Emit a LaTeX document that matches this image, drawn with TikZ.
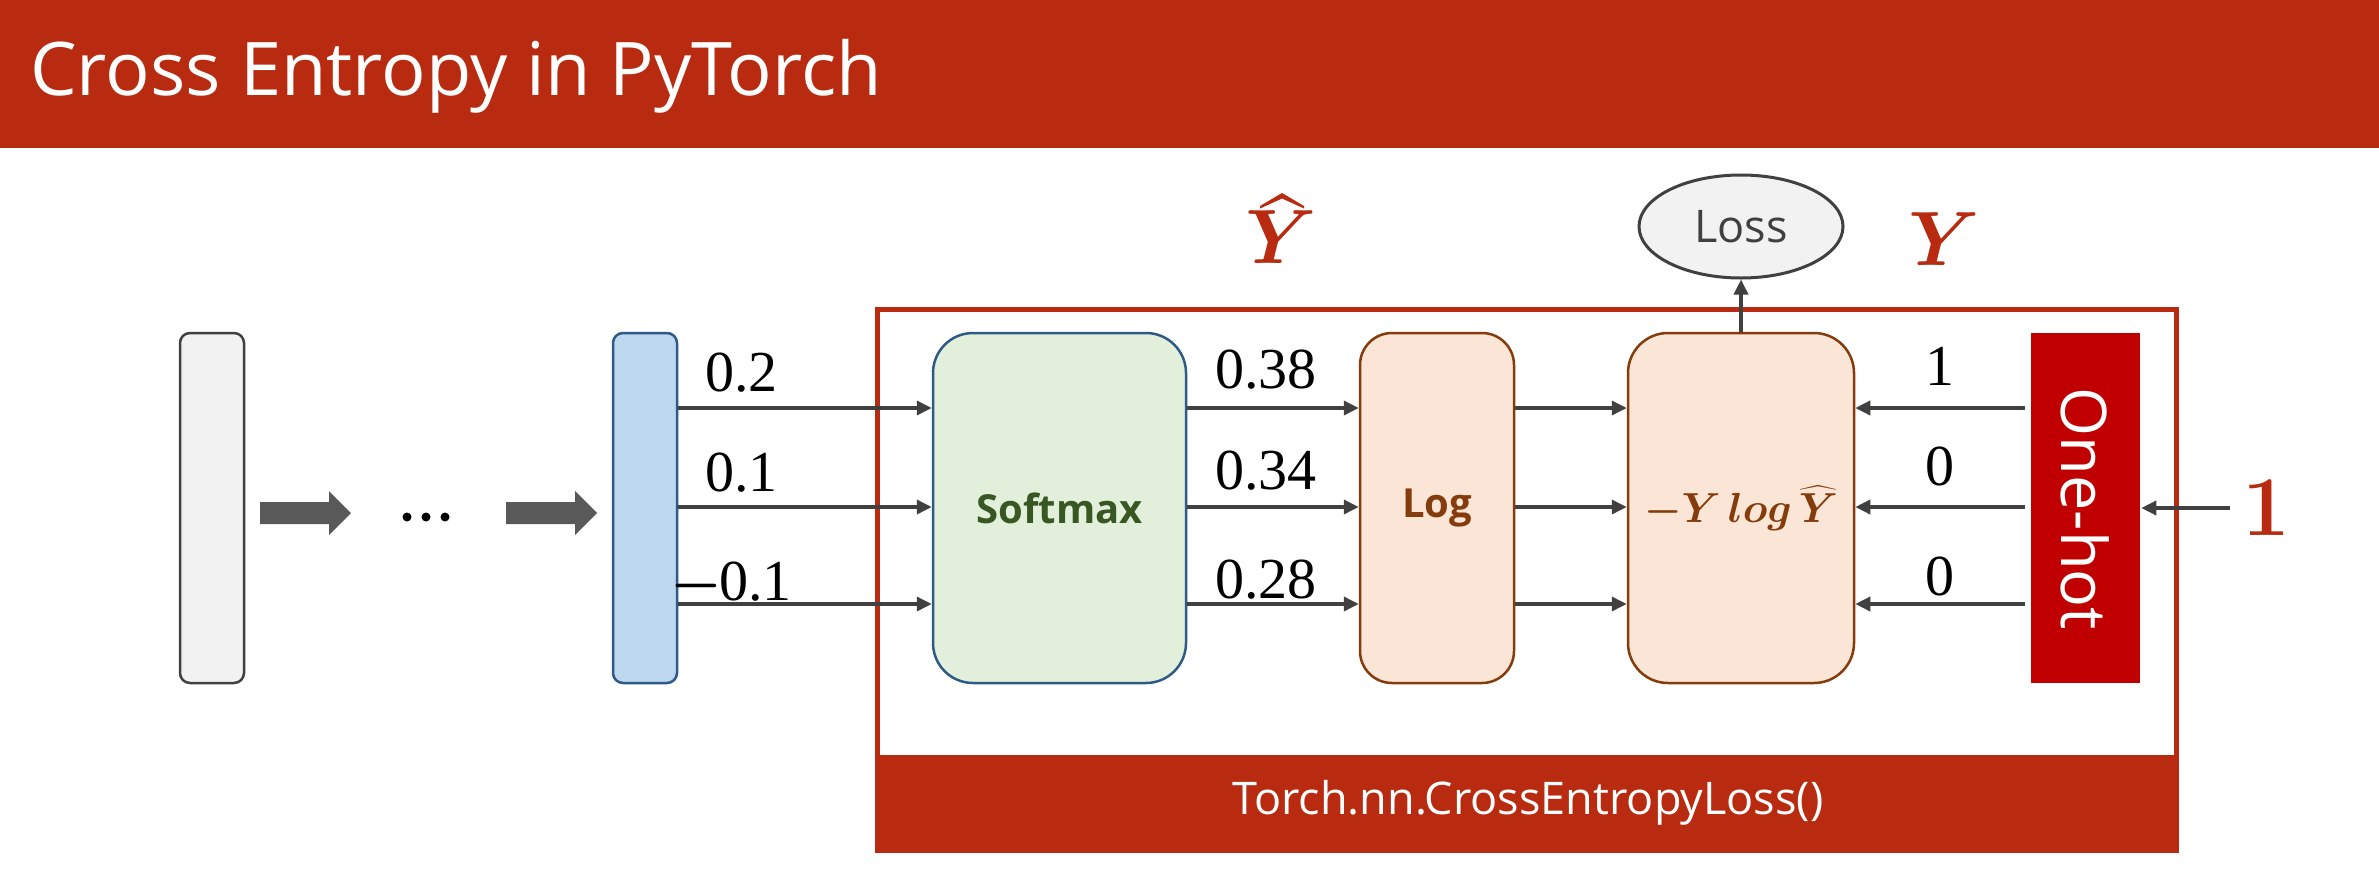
\RequirePackage{fix-cm}
\documentclass[tikz,border=0pt]{standalone}
\usepackage{amsmath}
\usepackage{bm}
\usepackage{fontspec}
\newfontfamily\uisans{Open Sans}
\newfontfamily\numserif{Liberation Serif}
\usetikzlibrary{arrows.meta,shapes.geometric,calc}

\definecolor{brick}{HTML}{B82B10}
\definecolor{hotred}{HTML}{C00000}
\definecolor{panelgray}{HTML}{F2F2F2}
\definecolor{darkline}{HTML}{404040}
\definecolor{blockgray}{HTML}{595959}
\definecolor{skyfill}{HTML}{BDD7EE}
\definecolor{navyline}{HTML}{2E5A88}
\definecolor{mintfill}{HTML}{E2EFDA}
\definecolor{leaf}{HTML}{385723}
\definecolor{peach}{HTML}{FBE5D6}
\definecolor{rust}{HTML}{843C0C}

\begin{document}
\begin{tikzpicture}[x=1pt,y=-1pt,
  column/.style={minimum width=64pt, minimum height=350pt, inner sep=0pt,
                 line width=2.5pt, rounded corners=10pt},
  stage/.style={minimum height=350pt, inner sep=0pt, line width=2.5pt},
  conn/.style={draw=darkline, line width=3.5pt, -{Triangle[length=15pt,width=14pt]}},
  bigarrow/.style={fill=blockgray},
  numlabel/.style={inner sep=0pt, font=\numserif\fontsize{58}{70}\selectfont},
  symlabel/.style={inner sep=0pt, text=brick, font=\fontsize{77}{92}\selectfont},
]
\useasboundingbox (0,0) rectangle (2379,870);
\fill[white] (0,0) rectangle (2379,870);

% title bar
\fill[brick] (0,0) rectangle (2379,148);
\node[anchor=base west, inner sep=0pt, text=white,
      font=\uisans\fontsize{74}{88}\selectfont] (title) at (30,95) {Cross Entropy in PyTorch};

% row heights of the three signals
\coordinate (r1) at (0,408);
\coordinate (r2) at (0,507);
\coordinate (r3) at (0,604);

% network columns
\node[column, draw=darkline, fill=panelgray] (inp) at (212,508) {};
\node[column, draw=navyline, fill=skyfill] (logits) at (645,508) {};

% block arrows and ellipsis between the columns
\fill[bigarrow] (260,502) -- (329,502) -- (329,491) -- (351,513) -- (329,535) -- (329,524) -- (260,524) -- cycle;
\fill[bigarrow] (506,502) -- (575,502) -- (575,491) -- (597,513) -- (575,535) -- (575,524) -- (506,524) -- cycle;
\foreach \dx in {407,426,445} \fill[black] (\dx,517) circle (4.5pt);

% loss module frame and caption band
\draw[brick, line width=5pt] (877.5,309.5) rectangle (2176.5,757);
\fill[brick] (875,755) rectangle (2179,853);
\node[text=white, inner sep=0pt, font=\uisans\fontsize{45}{54}\selectfont] (caption) at (1528,803)
  {Torch.nn.CrossEntropyLoss()};

% processing stages
\node[stage, minimum width=253pt, rounded corners=40pt, draw=navyline, fill=mintfill,
      text=leaf, font=\uisans\bfseries\fontsize{40}{48}\selectfont] (softmax) at (1059.5,508) {Softmax};
\node[stage, minimum width=154pt, rounded corners=32pt, draw=rust, fill=peach,
      text=rust, font=\uisans\bfseries\fontsize{40}{48}\selectfont] (log) at (1437,508) {Log};
\node[stage, minimum width=226pt, rounded corners=40pt, draw=rust, fill=peach,
      text=rust, font=\fontsize{42}{50}\selectfont] (ylog) at (1741,508)
      {\raisebox{-7pt}{$\bm{-Y\,log\,\widehat{Y}}$}};
\node[stage, minimum width=109pt, fill=hotred] (onehot) at (2085.5,508) {};
\node[rotate=-90, text=white, inner sep=0pt, font=\uisans\fontsize{63}{75}\selectfont] (onehottxt)
  at (2085,509) {One-hot};

% loss output
\node[ellipse, draw=darkline, fill=panelgray, line width=3pt, inner sep=0pt,
      minimum width=204pt, minimum height=103pt, text=darkline,
      font=\uisans\fontsize{45}{54}\selectfont] (loss) at (1741,226.5) {Loss};
\draw[conn] (ylog.north) -- (loss.south);

% symbols above the frame: predicted (with a wide hat) and true labels
\node[symlabel, anchor=base] (yhat) at (1281,263) {$\bm{Y}$};
\fill[brick] ($(yhat.base)+(-21,-57)$) -- ($(yhat.base)+(1,-70)$) -- ($(yhat.base)+(23,-57)$)
  -- ($(yhat.base)+(23,-54.5)$) -- ($(yhat.base)+(1,-64.5)$) -- ($(yhat.base)+(-21,-54.5)$) -- cycle;
\node[symlabel, anchor=base] (ytrue) at (1944,265) {$\bm{Y}$};

% label input
\node[anchor=base, inner sep=0pt, text=brick, font=\bfseries\fontsize{85}{100}\selectfont] (cls) at (2266,535) {1};
\draw[conn, shorten <=12pt] (cls.west |- onehot.east) -- (onehot.east);

% signal arrows
\foreach \r in {r1,r2,r3} {
  \draw[conn] (logits.east |- \r) -- (softmax.west |- \r);
  \draw[conn] (softmax.east |- \r) -- (log.west |- \r);
  \draw[conn] (log.east |- \r) -- (ylog.west |- \r);
  \draw[conn, shorten <=5pt] (onehot.west |- \r) -- (ylog.east |- \r);
}

% values on the arrows
\node[numlabel, anchor=base west] (z1) at (705,391) {0.2};
\node[numlabel, anchor=base west] (z2) at (705,491) {0.1};
\node[numlabel, anchor=base west] (z3) at (670,600) {\ensuremath{\bm{-}}\kern-3pt0.1};
\node[numlabel, anchor=base west] (p1) at (1215,388) {0.38};
\node[numlabel, anchor=base west] (p2) at (1215,489) {0.34};
\node[numlabel, anchor=base west] (p3) at (1215,598) {0.28};
\node[numlabel, anchor=base] (t1) at (1940,385) {1};
\node[numlabel, anchor=base] (t2) at (1940,485) {0};
\node[numlabel, anchor=base] (t3) at (1940,595) {0};
\end{tikzpicture}
\end{document}
